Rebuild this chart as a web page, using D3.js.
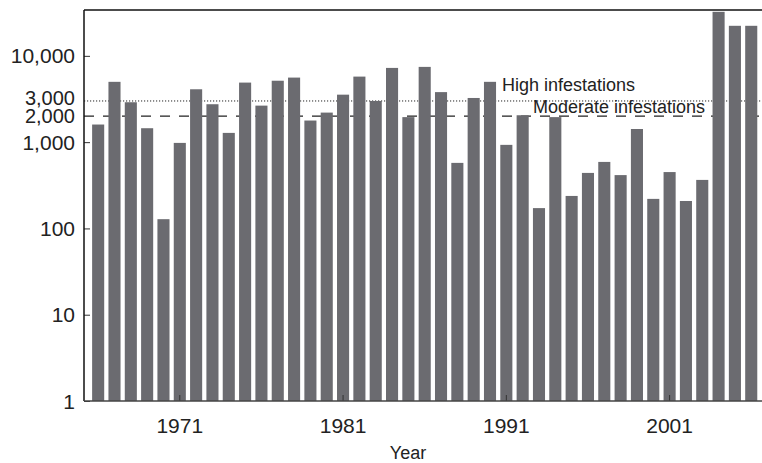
<!DOCTYPE html>
<html>
<head>
<meta charset="utf-8">
<script src="https://cdn.jsdelivr.net/npm/d3@7"></script>
<style>
    body { margin: 0; background: #fff; }
    svg { display: block; font-family: "Liberation Sans", Arial, sans-serif; }
</style>
</head>
<body>
<div id="chart"></div>
<script>
// 年份与数值（对数轴）
const years = d3.range(1966, 2007);
const values = [
    1600, 5000, 2900, 1450, 128, 980, 4100, 2750, 1280, 4900,
    2650, 5150, 5600, 1780, 2200, 3550, 5750, 3000, 7250, 1950,
    7450, 3800, 575, 3250, 5000, 930, 2050, 172, 1950, 238,
    440, 590, 415, 1420, 220, 450, 208, 365, 32400, 22300, 22300
];
const yTicks = [1, 10, 100, 1000, 10000];
const thresholdTicks = [2000, 3000];
const xTickYears = [1971, 1981, 1991, 2001];

const W = 762, H = 463;
const plotLeft = 84, plotTop = 10, plotBottom = 401, plotRight = 762;

const svg = d3.select('#chart').append('svg')
    .attr('width', W)
    .attr('height', H);

const x = d3.scaleBand()
    .domain(years)
    .range([90, 759.4])
    .paddingInner(0.26)
    .paddingOuter(0.13);

const y = d3.scaleLog()
    .domain([1, 34000])
    .range([plotBottom, plotTop]);

// 阈值线（在柱子后面）
svg.append('line')
    .attr('x1', plotLeft).attr('x2', plotRight)
    .attr('y1', y(3000)).attr('y2', y(3000))
    .attr('stroke', '#222')
    .attr('stroke-width', 1)
    .attr('stroke-dasharray', '1.2,1.8');

svg.append('line')
    .attr('x1', plotLeft).attr('x2', plotRight)
    .attr('y1', y(2000)).attr('y2', y(2000))
    .attr('stroke', '#222')
    .attr('stroke-width', 1.2)
    .attr('stroke-dasharray', '10,9');

// 柱子
svg.append('g')
    .selectAll('rect')
    .data(values)
    .join('rect')
    .attr('x', (d, i) => x(years[i]))
    .attr('width', x.bandwidth())
    .attr('y', d => y(d))
    .attr('height', d => plotBottom - y(d))
    .attr('fill', '#6b6b70');

// 标签文字
svg.append('text')
    .attr('x', 502).attr('y', 91)
    .attr('font-size', 18)
    .attr('fill', '#222')
    .text('High infestations');

svg.append('text')
    .attr('x', 533).attr('y', 112.5)
    .attr('font-size', 18)
    .attr('fill', '#222')
    .text('Moderate infestations');

// 边框：上边和左边
svg.append('line')
    .attr('x1', plotLeft).attr('x2', plotRight)
    .attr('y1', plotTop).attr('y2', plotTop)
    .attr('stroke', '#111').attr('stroke-width', 1.5);

// y 轴
const yAxis = svg.append('g')
    .attr('transform', `translate(${plotLeft},0)`)
    .call(d3.axisRight(y)
        .tickValues(yTicks)
        .tickSize(6)
        .tickFormat(''));
yAxis.select('.domain').remove();
yAxis.selectAll('.tick line').attr('stroke', '#333').attr('stroke-width', 1);

svg.append('line')
    .attr('x1', plotLeft).attr('x2', plotLeft)
    .attr('y1', plotTop).attr('y2', plotBottom)
    .attr('stroke', '#111').attr('stroke-width', 1.5);

// 刻度标签；2,000 / 3,000 两个靠得很近，稍微错开
const labelShift = { 3000: -3, 2000: 0 };
svg.append('g')
    .selectAll('text')
    .data(yTicks.concat(thresholdTicks))
    .join('text')
    .attr('x', 75)
    .attr('y', d => y(d) + (labelShift[d] || 0))
    .attr('dy', '0.36em')
    .attr('text-anchor', 'end')
    .attr('font-size', d => thresholdTicks.includes(d) ? 20 : 21)
    .attr('fill', '#222')
    .text(d => d3.format(',')(d));

// x 轴
const xAxis = svg.append('g')
    .attr('transform', `translate(0,${plotBottom})`)
    .call(d3.axisTop(x)
        .tickValues(xTickYears)
        .tickSize(6)
        .tickFormat(''));
xAxis.select('.domain').remove();
xAxis.selectAll('.tick line').attr('stroke', '#333');

svg.append('line')
    .attr('x1', plotLeft).attr('x2', plotRight)
    .attr('y1', plotBottom).attr('y2', plotBottom)
    .attr('stroke', '#444').attr('stroke-width', 1.5);

svg.append('g')
    .selectAll('text')
    .data(xTickYears)
    .join('text')
    .attr('x', d => x(d) + x.bandwidth() / 2)
    .attr('y', 433)
    .attr('text-anchor', 'middle')
    .attr('font-size', 21)
    .attr('fill', '#222')
    .text(d => d);

svg.append('text')
    .attr('x', 408)
    .attr('y', 459)
    .attr('text-anchor', 'middle')
    .attr('font-size', 18)
    .attr('fill', '#222')
    .text('Year');
</script>
</body>
</html>
